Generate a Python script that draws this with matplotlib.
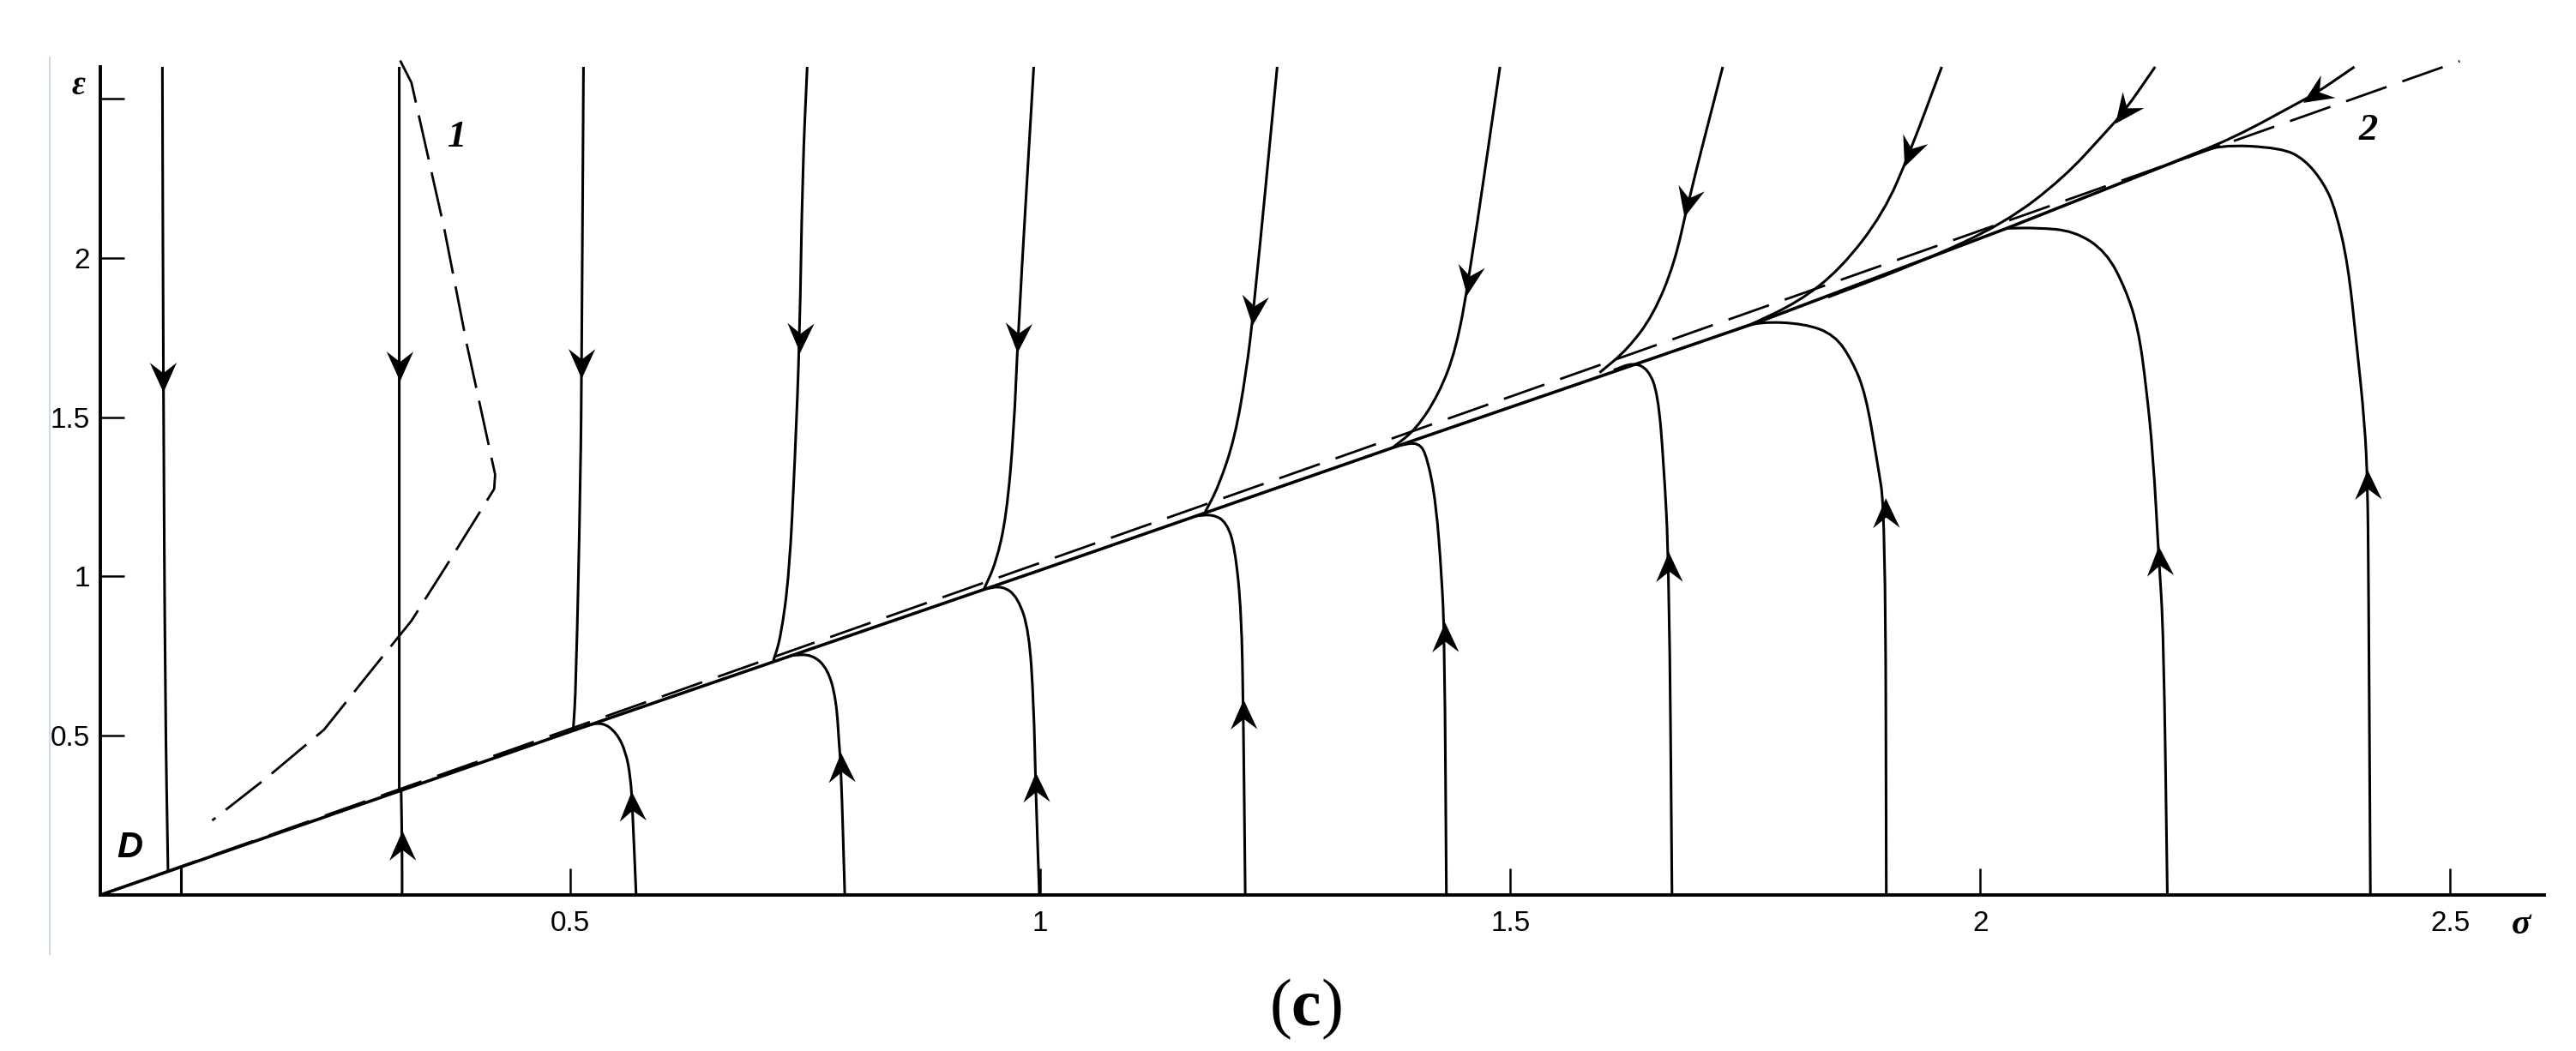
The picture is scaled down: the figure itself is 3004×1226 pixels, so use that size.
import matplotlib
matplotlib.use("Agg")
import matplotlib.pyplot as plt
import numpy as np
from matplotlib.path import Path
from matplotlib.patches import PathPatch
from matplotlib.markers import MarkerStyle
from matplotlib.transforms import Affine2D
from matplotlib.lines import Line2D

plt.rcParams['lines.scale_dashes'] = False
plt.rcParams['mathtext.fontset'] = 'custom'
plt.rcParams['mathtext.rm'] = 'Liberation Serif'
plt.rcParams['mathtext.bf'] = 'Liberation Serif:bold'

# trajectories coming down from the top edge (sigma, epsilon), in flow order
down_sig = [
    [0.066, 0.067, 0.069, 0.072],
    [0.318, 0.318, 0.318],
    [0.514, 0.512, 0.511, 0.506, 0.503],
    [0.752, 0.747, 0.744, 0.739, 0.733, 0.724, 0.716],
    [0.993, 0.976, 0.972, 0.964, 0.953, 0.940],
    [1.252, 1.227, 1.219, 1.207, 1.190, 1.175],
    [1.489, 1.456, 1.442, 1.424, 1.400, 1.375],
    [1.726, 1.689, 1.675, 1.652, 1.624, 1.595],
    [1.959, 1.925, 1.897, 1.851, 1.806, 1.755],
    [2.186, 2.153, 2.134, 2.089, 2.026, 1.935, 1.838],
    [2.398, 2.356, 2.340, 2.269, 2.200],
]
down_eps = [
    [2.60, 1.625, 0.60, 0.075],
    [2.60, 1.66, 0.33],
    [2.60, 1.67, 1.33, 0.65, 0.515],
    [2.60, 2.27, 1.75, 1.37, 1.01, 0.81, 0.735],
    [2.60, 1.75, 1.46, 1.19, 1.044, 0.96],
    [2.60, 1.835, 1.64, 1.436, 1.285, 1.20],
    [2.60, 1.93, 1.71, 1.573, 1.463, 1.405],
    [2.60, 2.175, 1.985, 1.82, 1.711, 1.64],
    [2.60, 2.33, 2.14, 1.964, 1.861, 1.79],
    [2.60, 2.459, 2.397, 2.252, 2.109, 1.985, 1.877],
    [2.60, 2.515, 2.49, 2.376, 2.294],
]
down_arrow = [1, 1, 1, 2, 1, 1, 1, 1, 1, 1, 1]

# trajectories rising from the sigma axis
up_sig = [
    [0.086, 0.086],
    [0.321, 0.321, 0.320],
    [0.570, 0.566, 0.564, 0.559, 0.549, 0.534, 0.515],
    [0.792, 0.788, 0.786, 0.783, 0.774, 0.757, 0.735],
    [0.999, 0.995, 0.993, 0.988, 0.976, 0.960, 0.940],
    [1.218, 1.216, 1.214, 1.207, 1.198, 1.184, 1.165],
    [1.432, 1.430, 1.427, 1.421, 1.412, 1.403, 1.380],
    [1.672, 1.669, 1.663, 1.657, 1.647, 1.631, 1.610],
    [1.900, 1.899, 1.890, 1.878, 1.864, 1.845, 1.813, 1.765, 1.740],
    [2.199, 2.195, 2.190, 2.184, 2.176, 2.168, 2.155, 2.134, 2.100, 2.060, 2.028],
    [2.415, 2.413, 2.412, 2.409, 2.400, 2.391, 2.378, 2.366, 2.345, 2.320, 2.253, 2.220],
]
up_eps = [
    [0.0, 0.088],
    [0.0, 0.155, 0.33],
    [0.0, 0.28, 0.37, 0.45, 0.51, 0.543, 0.53],
    [0.0, 0.40, 0.47, 0.611, 0.71, 0.756, 0.752],
    [0.0, 0.34, 0.60, 0.83, 0.935, 0.971, 0.96],
    [0.0, 0.567, 0.887, 1.092, 1.17, 1.195, 1.19],
    [0.0, 0.81, 1.0, 1.23, 1.37, 1.423, 1.41],
    [0.0, 1.03, 1.367, 1.573, 1.65, 1.672, 1.648],
    [0.0, 1.20, 1.367, 1.573, 1.676, 1.759, 1.794, 1.80, 1.775],
    [0.0, 0.826, 1.05, 1.377, 1.61, 1.778, 1.90, 2.02, 2.085, 2.095, 2.093],
    [0.0, 1.0, 1.29, 1.482, 1.738, 1.985, 2.15, 2.233, 2.31, 2.346, 2.356, 2.315],
]
up_arrow = [None, 1, 1, 1, 1, 1, 1, 1, 1, 2, 2]

# the line the trajectories settle on
slow_sig = [0.0, 0.5, 1.0, 1.4, 1.765, 2.028, 2.253]
slow_eps = [0.0, 0.513, 1.02, 1.43, 1.80, 2.093, 2.356]

# dashed curve 1 and dashed line 2
curve1_sig = [0.319, 0.331, 0.366, 0.390, 0.420, 0.419, 0.402, 0.368, 0.331,
              0.284, 0.238, 0.177, 0.119]
curve1_eps = [2.62, 2.55, 2.09, 1.727, 1.32, 1.275, 1.194, 1.033, 0.861,
              0.689, 0.519, 0.368, 0.234]
line2_sig = [0.0, 2.51]
line2_eps = [0.0, 2.618]

x_ticks = [0.5, 1, 1.5, 2, 2.5]
x_labels = ['0.5', '1', '1.5', '2', '2.5']
y_ticks = [0.5, 1, 1.5, 2, 2.5]
y_labels = ['0.5', '1', '1.5', '2', '']


def smooth_path(xs, ys):
    """quadratic bezier through the midpoints of the given points"""
    pts = np.column_stack([xs, ys])
    if len(pts) < 3:
        return Path(pts)
    mids = (pts[:-1] + pts[1:]) / 2
    verts = [pts[0], mids[0]]
    codes = [Path.MOVETO, Path.LINETO]
    for i in range(1, len(pts) - 1):
        verts += [pts[i], mids[i]]
        codes += [Path.CURVE3, Path.CURVE3]
    verts.append(pts[-1])
    codes.append(Path.LINETO)
    return Path(verts, codes)


arrow_head = Path([(0.5, 0), (-0.5, 0.45), (-0.15, 0), (-0.5, -0.45), (0.5, 0)],
                  [Path.MOVETO, Path.LINETO, Path.LINETO, Path.LINETO, Path.CLOSEPOLY])


def draw_arrow(ax, xs, ys, i):
    p0 = ax.transData.transform((xs[i - 1], ys[i - 1]))
    p1 = ax.transData.transform((xs[i + 1], ys[i + 1]))
    ang = np.degrees(np.arctan2(p1[1] - p0[1], p1[0] - p0[0]))
    m = MarkerStyle(arrow_head, transform=Affine2D().rotate_deg(ang))
    ax.plot([xs[i]], [ys[i]], marker=m, ms=25, color='k', mew=0,
            ls='none', zorder=5, clip_on=False)


fig = plt.figure(figsize=(30.04, 12.26), dpi=100)
ax = fig.add_axes([0.03895, 0.14845, 0.94874, 0.78793])
ax.set_xlim(0, 2.6)
ax.set_ylim(0, 2.6)

lw = 2.2
for xs, ys in zip(down_sig + up_sig, down_eps + up_eps):
    ax.add_patch(PathPatch(smooth_path(xs, ys), facecolor='none', edgecolor='k',
                           lw=lw, clip_on=False, zorder=3))
for xs, ys, a in zip(down_sig, down_eps, down_arrow):
    draw_arrow(ax, xs, ys, a)
for xs, ys, a in zip(up_sig, up_eps, up_arrow):
    if a is not None:
        draw_arrow(ax, xs, ys, a)

ax.plot(slow_sig, slow_eps, color='k', lw=2.6, zorder=3)
ax.plot(line2_sig, line2_eps, color='k', lw=2.0, dashes=(36, 14), clip_on=False, zorder=3)
ax.plot(curve1_sig, curve1_eps, color='k', lw=2.0, dashes=(38, 11), clip_on=False, zorder=3)

# labels inside the plot
ax.text(0.38, 2.38, '1', fontsize=32, family='Liberation Serif', weight='bold',
        style='italic', ha='center', va='center')
ax.text(2.413, 2.402, '2', fontsize=32, family='Liberation Serif', weight='bold',
        style='italic', ha='center', va='center')
ax.text(0.031, 0.148, 'D', fontsize=30, family='Liberation Sans', weight='bold',
        style='italic', ha='center', va='center')
ax.text(-0.023, 2.54, 'ε', fontsize=28, family='Liberation Serif', weight='bold',
        style='italic', ha='center', va='center', clip_on=False)
ax.text(2.575, -0.094, 'σ', fontsize=30, family='Liberation Serif', weight='bold',
        style='italic', ha='center', va='center', clip_on=False)

for s in ['top', 'right']:
    ax.spines[s].set_visible(False)
for s in ['left', 'bottom']:
    ax.spines[s].set_linewidth(2.8)
ax.set_xticks(x_ticks)
ax.set_xticklabels(x_labels)
ax.set_yticks(y_ticks)
ax.set_yticklabels(y_labels)
ax.tick_params(axis='x', direction='in', length=22, width=1.8, pad=13, labelsize=24)
ax.tick_params(axis='y', direction='in', length=20, width=1.8, pad=9, labelsize=24)
for lab in ax.get_xticklabels() + ax.get_yticklabels():
    lab.set_family('Liberation Sans')

# faint edge line on the left of the original figure
fig.add_artist(Line2D([0.0193, 0.0193], [0.092, 0.945], color='#cbdaee', lw=1.5))

fig.text(0.5067, 0.040, r'$\mathrm{(}\mathbf{c}\mathrm{)}$', fontsize=56,
         ha='center', va='center')

fig.savefig('out.png', dpi=100)
